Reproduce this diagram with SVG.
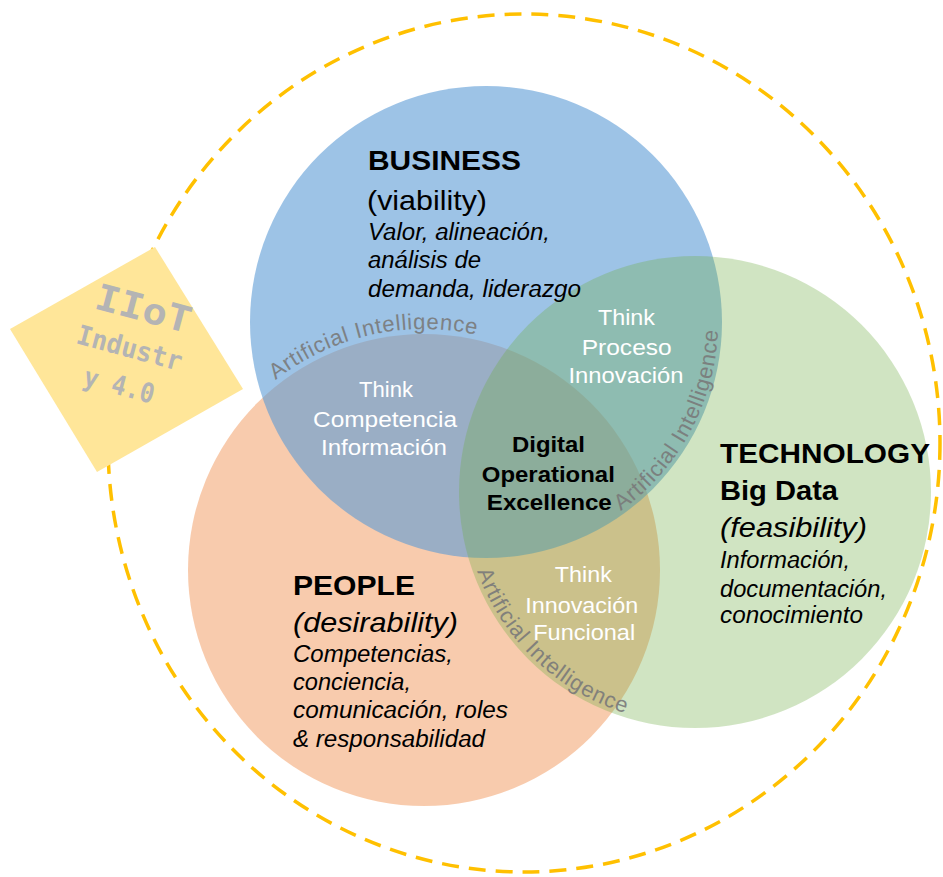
<svg xmlns="http://www.w3.org/2000/svg" width="943" height="877" viewBox="0 0 943 877">
<defs>
<style>
.t{font-family:"Liberation Sans",Arial,sans-serif;fill:#000}
.b{font-weight:bold;font-size:28px}
.p{font-size:28px}
.pi{font-size:28px;font-style:italic}
.i{font-size:23px;font-style:italic}
.w{font-family:"Liberation Sans",Arial,sans-serif;fill:#fff;font-size:22.5px;text-anchor:middle}
.c{font-family:"Liberation Sans",Arial,sans-serif;font-weight:bold;font-size:22.5px;text-anchor:middle;fill:#000}
.ai{font-family:"Liberation Sans",Arial,sans-serif;font-size:22px;fill:#7a7a7a;letter-spacing:0.8px;opacity:0.9}
.iiot{font-family:"DejaVu Sans Mono","Comic Sans MS",monospace;font-weight:bold;fill:#b4b4b4}
</style>
<path id="arc1" d="M275.6,380.1 A241,241 0 0,1 544.5,361.3"/>
<path id="arc2" d="M620.7,510.9 A232,232 0 0,0 710.1,262"/>
<path id="arc3" d="M477,571.3 A232,232 0 0,0 674.8,723.1"/>
</defs>
<rect width="943" height="877" fill="#fff"/>
<g id="frame">
<ellipse cx="524" cy="443" rx="416" ry="429" fill="none" stroke="#FFC000" stroke-width="3.5" stroke-dasharray="17 10"/>
</g>
<g id="people">
<circle cx="424" cy="570" r="236" fill="#ED7D31" fill-opacity="0.4"/>
</g>
<g id="business">
<circle cx="486" cy="322" r="236" fill="#5B9BD5" fill-opacity="0.6"/>
</g>
<g id="technology">
<circle cx="695" cy="492" r="236" fill="#70AD47" fill-opacity="0.33"/>
</g>
<g id="iiot">
<polygon points="10,329 155,247 243,389 97,472" fill="#FFE699"/>
<text class="iiot" font-size="36" transform="translate(93,308) rotate(15)" textLength="98" lengthAdjust="spacingAndGlyphs">IIoT</text>
<text class="iiot" font-size="27" transform="translate(75,343) rotate(15)" textLength="108" lengthAdjust="spacingAndGlyphs">Industr</text>
<text class="iiot" font-size="27" transform="translate(82,385) rotate(15)" textLength="72" lengthAdjust="spacingAndGlyphs">y 4.0</text>
</g>
<g id="business-label">
<text class="t b" x="368" y="170" textLength="153" lengthAdjust="spacingAndGlyphs">BUSINESS</text>
<text class="t p" x="367" y="210" textLength="120" lengthAdjust="spacingAndGlyphs">(viability)</text>
<text class="t i" x="368" y="240" textLength="182" lengthAdjust="spacingAndGlyphs">Valor, alineación,</text>
<text class="t i" x="368" y="268" textLength="113" lengthAdjust="spacingAndGlyphs">análisis de</text>
<text class="t i" x="368" y="297" textLength="213" lengthAdjust="spacingAndGlyphs">demanda, liderazgo</text>
</g>
<g id="technology-label">
<text class="t b" x="720" y="463" textLength="210" lengthAdjust="spacingAndGlyphs">TECHNOLOGY</text>
<text class="t b" x="720" y="500" textLength="118" lengthAdjust="spacingAndGlyphs">Big Data</text>
<text class="t pi" x="720" y="537" textLength="147" lengthAdjust="spacingAndGlyphs">(feasibility)</text>
<text class="t i" x="720" y="568" textLength="130" lengthAdjust="spacingAndGlyphs">Información,</text>
<text class="t i" x="720" y="597" textLength="167" lengthAdjust="spacingAndGlyphs">documentación,</text>
<text class="t i" x="720" y="623" textLength="143" lengthAdjust="spacingAndGlyphs">conocimiento</text>
</g>
<g id="people-label">
<text class="t b" x="293" y="595" textLength="122" lengthAdjust="spacingAndGlyphs">PEOPLE</text>
<text class="t pi" x="293" y="632" textLength="165" lengthAdjust="spacingAndGlyphs">(desirability)</text>
<text class="t i" x="293" y="662" textLength="160" lengthAdjust="spacingAndGlyphs">Competencias,</text>
<text class="t i" x="293" y="690" textLength="118" lengthAdjust="spacingAndGlyphs">conciencia,</text>
<text class="t i" x="293" y="718" textLength="215" lengthAdjust="spacingAndGlyphs">comunicación, roles</text>
<text class="t i" x="293" y="747" textLength="192" lengthAdjust="spacingAndGlyphs">&amp; responsabilidad</text>
</g>
<g id="think-competencia">
<text class="w" x="386" y="397" textLength="54" lengthAdjust="spacingAndGlyphs">Think</text>
<text class="w" x="385" y="427" textLength="144" lengthAdjust="spacingAndGlyphs">Competencia</text>
<text class="w" x="384" y="455" textLength="126" lengthAdjust="spacingAndGlyphs">Información</text>
</g>
<g id="think-proceso">
<text class="w" x="626.5" y="325" textLength="57" lengthAdjust="spacingAndGlyphs">Think</text>
<text class="w" x="626.7" y="355" textLength="90" lengthAdjust="spacingAndGlyphs">Proceso</text>
<text class="w" x="626" y="383" textLength="115" lengthAdjust="spacingAndGlyphs">Innovación</text>
</g>
<g id="think-funcional">
<text class="w" x="583.3" y="582" textLength="57" lengthAdjust="spacingAndGlyphs">Think</text>
<text class="w" x="581.7" y="613" textLength="113" lengthAdjust="spacingAndGlyphs">Innovación</text>
<text class="w" x="584.2" y="640" textLength="102" lengthAdjust="spacingAndGlyphs">Funcional</text>
</g>
<g id="digital-operational-excellence">
<text class="c" x="548.5" y="452" textLength="73" lengthAdjust="spacingAndGlyphs">Digital</text>
<text class="c" x="548.3" y="482" textLength="133" lengthAdjust="spacingAndGlyphs">Operational</text>
<text class="c" x="549.3" y="510" textLength="125" lengthAdjust="spacingAndGlyphs">Excellence</text>
</g>
<g id="connectors">
<text class="ai"><textPath href="#arc1">Artificial Intelligence</textPath></text>
<text class="ai"><textPath href="#arc2">Artificial Intelligence</textPath></text>
<text class="ai"><textPath href="#arc3">Artificial Intelligence</textPath></text>
</g>
</svg>
